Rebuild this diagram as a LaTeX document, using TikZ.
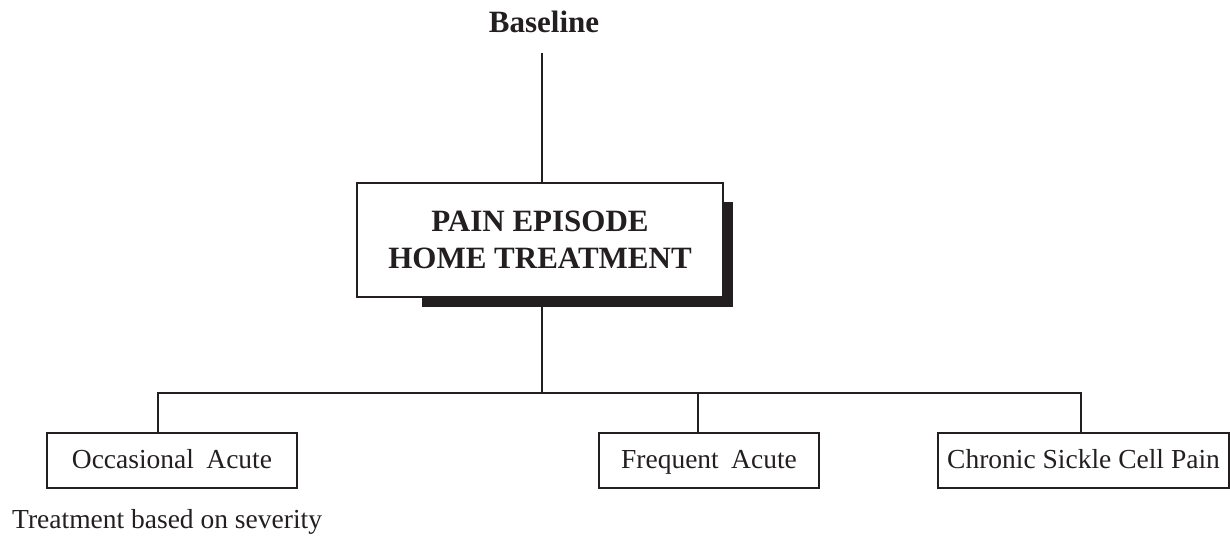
\documentclass[tikz,border=0pt]{standalone}
\usepackage{fontspec}
\setmainfont{Liberation Serif}
\definecolor{ink}{HTML}{231F20}
\begin{document}
\begin{tikzpicture}[x=1pt,y=-1pt,
  ink line/.style={draw=ink,line width=1.8pt},
  title/.style={inner sep=0pt,text=ink,font=\bfseries\fontsize{31}{37}\selectfont},
  mainbox/.style={ink line,fill=white,inner sep=0pt,minimum width=366pt,minimum height=114pt,
    align=center,text=ink,font=\bfseries\fontsize{31}{37}\selectfont},
  leafbox/.style={ink line,inner sep=0pt,minimum height=55pt,text=ink,
    text height=20pt,text depth=5pt,font=\fontsize{27.5}{33}\selectfont},
  note/.style={inner sep=0pt,text=ink,anchor=base west,font=\fontsize{27.5}{33}\selectfont}]
\useasboundingbox (0,0) rectangle (1230,535);

% heading
\node[title,anchor=base] (base) at (544,33) {Baseline};

% drop shadow behind the central box
\fill[ink] (422,202) rectangle (733,307);
\node[mainbox] (main) at (540,240) {PAIN EPISODE\\HOME TREATMENT};

% category boxes
\node[leafbox,minimum width=250pt] (occ) at (172,460.5) {Occasional\hspace{0.45em}Acute};
\node[leafbox,minimum width=220pt] (freq) at (709,460.5) {Frequent\hspace{0.45em}Acute};
\node[leafbox,minimum width=291pt] (chron) at (1083.5,460.5) {Chronic Sickle Cell Pain};

\node[note] (sev) at (12,528) {Treatment based on severity};

% tree connectors
\coordinate (top) at (542,53);
\coordinate (bus) at (542,393);
\coordinate (dA) at (158,393);
\coordinate (dB) at (698,393);
\coordinate (dC) at (1081,393);

\draw[ink line] (top) -- (top |- main.north);
\draw[ink line] (bus |- main.south) -- (bus);
\draw[ink line,line cap=rect] (dA) -- (dC);
\draw[ink line] (dA) -- (dA |- occ.north);
\draw[ink line] (dB) -- (dB |- freq.north);
\draw[ink line] (dC) -- (dC |- chron.north);
\end{tikzpicture}
\end{document}
